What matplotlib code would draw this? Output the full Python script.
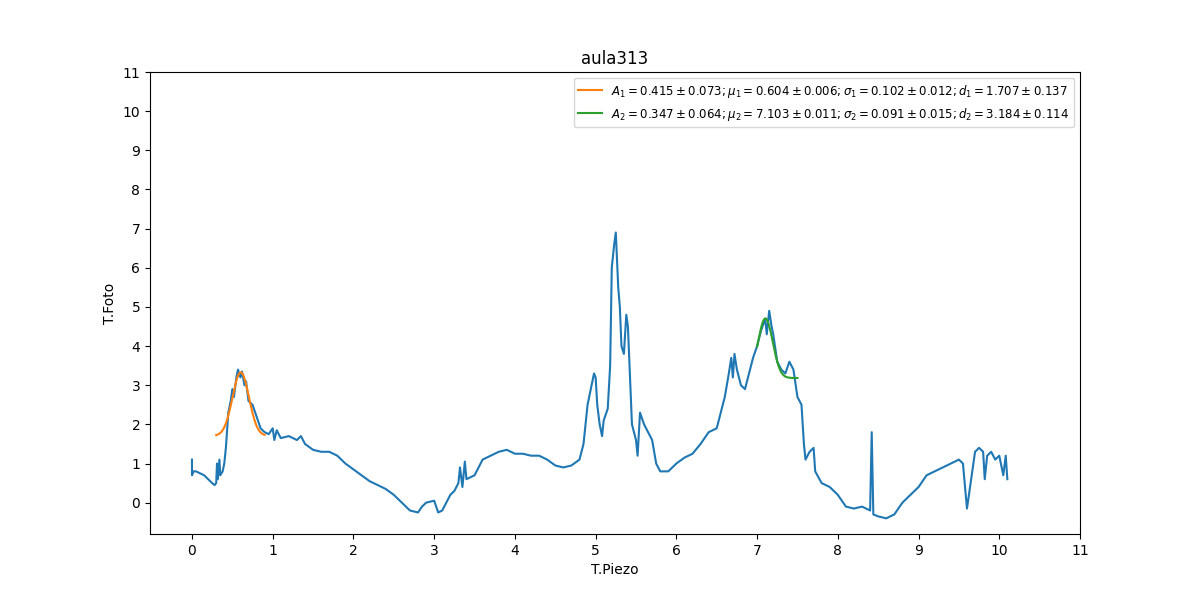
import numpy as np
import matplotlib
matplotlib.use("Agg")
import matplotlib.pyplot as plt

piezo = [0.0, 0.0, 0.02, 0.05, 0.1, 0.15, 0.2, 0.25, 0.28, 0.3, 0.31, 0.32, 0.34, 0.35, 0.38, 0.4,
         0.42, 0.45, 0.48, 0.5, 0.52, 0.55, 0.57, 0.6, 0.62, 0.65, 0.67, 0.7, 0.75, 0.8, 0.85,
         0.9, 0.95, 1.0, 1.02, 1.05, 1.1, 1.2, 1.3, 1.35, 1.4, 1.5, 1.6, 1.7, 1.8, 1.9, 2.0,
         2.1, 2.2, 2.3, 2.4, 2.5, 2.6, 2.65, 2.7, 2.8, 2.85, 2.9, 3.0, 3.05, 3.1, 3.15, 3.2,
         3.25, 3.3, 3.32, 3.35, 3.38, 3.4, 3.5, 3.6, 3.7, 3.8, 3.9, 4.0, 4.1, 4.2, 4.3, 4.4,
         4.5, 4.6, 4.7, 4.8, 4.85, 4.9, 4.95, 4.98, 5.0, 5.02, 5.05, 5.08, 5.1, 5.15, 5.18,
         5.2, 5.23, 5.25, 5.28, 5.3, 5.32, 5.35, 5.38, 5.4, 5.45, 5.5, 5.52, 5.55, 5.6, 5.65,
         5.7, 5.75, 5.8, 5.9, 6.0, 6.1, 6.2, 6.3, 6.4, 6.5, 6.55, 6.6, 6.65, 6.68, 6.7, 6.72,
         6.75, 6.8, 6.85, 6.9, 6.95, 7.0, 7.05, 7.1, 7.12, 7.15, 7.18, 7.2, 7.25, 7.3, 7.35,
         7.4, 7.45, 7.5, 7.55, 7.58, 7.6, 7.65, 7.7, 7.72, 7.8, 7.9, 8.0, 8.1, 8.2, 8.3, 8.4,
         8.42, 8.44, 8.5, 8.6, 8.7, 8.8, 8.9, 9.0, 9.1, 9.2, 9.3, 9.4, 9.5, 9.55, 9.6, 9.7,
         9.75, 9.8, 9.82, 9.85, 9.9, 9.95, 10.0, 10.05, 10.08, 10.1]
foto = [1.1, 0.7, 0.8, 0.8, 0.75, 0.7, 0.6, 0.5, 0.45, 0.5, 1.0, 0.6, 1.1, 0.7, 0.8, 1.0,
        1.4, 2.3, 2.6, 2.9, 2.7, 3.2, 3.4, 3.2, 3.35, 3.0, 3.1, 2.6, 2.5, 2.2, 1.9,
        1.8, 1.75, 1.9, 1.6, 1.85, 1.65, 1.7, 1.6, 1.7, 1.5, 1.35, 1.3, 1.3, 1.2, 1.0, 0.85,
        0.7, 0.55, 0.45, 0.35, 0.2, 0.0, -0.1, -0.2, -0.25, -0.1, 0.0, 0.05, -0.25, -0.2, 0.0, 0.2,
        0.3, 0.5, 0.9, 0.4, 1.05, 0.6, 0.7, 1.1, 1.2, 1.3, 1.35, 1.25, 1.25, 1.2, 1.2, 1.1,
        0.95, 0.9, 0.95, 1.1, 1.5, 2.5, 3.0, 3.3, 3.2, 2.5, 2.0, 1.7, 2.1, 2.4, 3.5,
        6.0, 6.6, 6.9, 5.5, 5.0, 4.0, 3.8, 4.8, 4.5, 2.0, 1.6, 1.2, 2.3, 2.0, 1.8,
        1.6, 1.0, 0.8, 0.8, 1.0, 1.15, 1.25, 1.5, 1.8, 1.9, 2.3, 2.7, 3.3, 3.7, 3.2, 3.8,
        3.4, 3.0, 2.9, 3.3, 3.7, 4.0, 4.4, 4.7, 4.3, 4.9, 4.5, 4.3, 3.6, 3.4, 3.3,
        3.6, 3.4, 2.7, 2.5, 1.5, 1.1, 1.3, 1.4, 0.8, 0.5, 0.4, 0.2, -0.1, -0.15, -0.1, -0.2,
        1.8, -0.3, -0.35, -0.4, -0.3, 0.0, 0.2, 0.4, 0.7, 0.8, 0.9, 1.0, 1.1, 1.0, -0.15, 1.3,
        1.4, 1.3, 0.6, 1.2, 1.3, 1.1, 1.2, 0.7, 1.2, 0.6]

# fitted gaussian parameters (from legend)
fit1 = dict(A=0.415, mu=0.604, s=0.102, d=1.707, x0=0.3, x1=0.9)
fit2 = dict(A=0.347, mu=7.103, s=0.091, d=3.184, x0=7.0, x1=7.5)


def gauss(x, A, mu, s, d):
    return A / (s * np.sqrt(2 * np.pi)) * np.exp(-(x - mu) ** 2 / (2 * s ** 2)) + d


fig, ax = plt.subplots(figsize=(12, 6), dpi=100)
ax.plot(piezo, foto, color="C0")
for f, c, lab in [(fit1, "C1", r"$A_1=0.415\pm0.073;\mu_1=0.604\pm0.006;\sigma_1=0.102\pm0.012;d_1=1.707\pm0.137$"),
                  (fit2, "C2", r"$A_2=0.347\pm0.064;\mu_2=7.103\pm0.011;\sigma_2=0.091\pm0.015;d_2=3.184\pm0.114$")]:
    xs = np.linspace(f["x0"], f["x1"], 200)
    ax.plot(xs, gauss(xs, f["A"], f["mu"], f["s"], f["d"]), color=c, label=lab)

ax.set_xlim(-0.52, 11)
ax.set_ylim(-0.8, 11)
ax.set_xticks(range(12))
ax.set_yticks(range(12))
ax.set_xlabel("T.Piezo")
ax.set_ylabel("T.Foto")
ax.set_title("aula313")
ax.legend(loc="upper right", fontsize=8.5)
fig.savefig("out.png")
